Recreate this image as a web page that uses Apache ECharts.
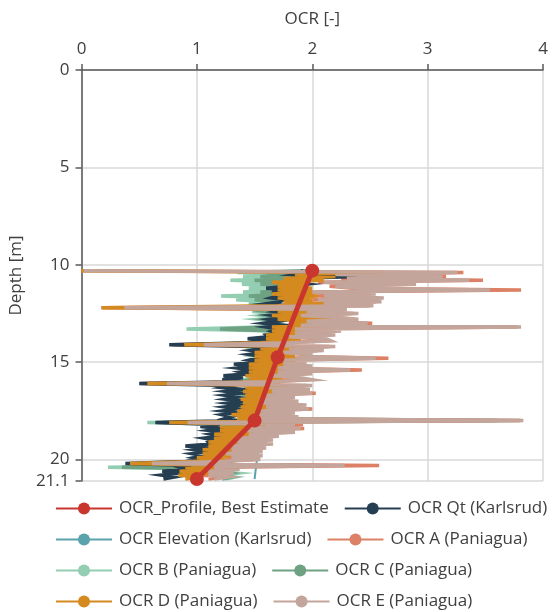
<!DOCTYPE html>
<html>
<head>
<meta charset="utf-8">
<script src="https://cdn.jsdelivr.net/npm/echarts@6/dist/echarts.min.js"></script>
<style>
  html, body { margin: 0; padding: 0; background: #ffffff; }
  #chart { width: 552px; height: 612px; }
</style>
</head>
<body>
<div id="chart"></div>
<script>
// Depth samples [m] shared by the CPT-derived OCR traces
const depths = [
  10.3, 10.4, 10.5, 10.6, 10.7, 10.8, 10.9, 11.0, 11.1, 11.2,
  11.3, 11.4, 11.5, 11.6, 11.7, 11.8, 11.9, 12.0, 12.1, 12.2,
  12.3, 12.4, 12.5, 12.6, 12.7, 12.8, 12.9, 13.0, 13.1, 13.2,
  13.3, 13.4, 13.5, 13.6, 13.7, 13.8, 13.9, 14.0, 14.1, 14.2,
  14.3, 14.4, 14.5, 14.6, 14.7, 14.8, 14.9, 15.0, 15.1, 15.2,
  15.3, 15.4, 15.5, 15.6, 15.7, 15.8, 15.9, 16.0, 16.1, 16.2,
  16.3, 16.4, 16.5, 16.6, 16.7, 16.8, 16.9, 17.0, 17.1, 17.2,
  17.3, 17.4, 17.5, 17.6, 17.7, 17.8, 17.9, 18.0, 18.1, 18.2,
  18.3, 18.4, 18.5, 18.6, 18.7, 18.8, 18.9, 19.0, 19.1, 19.2,
  19.3, 19.4, 19.5, 19.6, 19.7, 19.8, 19.9, 20.0, 20.1, 20.2,
  20.3, 20.4, 20.5, 20.6, 20.7, 20.8, 20.9, 21.0
];

const ocrQt = [
  1.90, 1.94, 1.85, 2.40, 1.80, 2.00, 1.77, 1.95, 1.80, 1.60,
  1.85, 1.65, 1.90, 1.70, 1.64, 1.75, 1.72, 1.60, 1.80, 1.60,
  1.75, 1.68, 1.85, 1.65, 1.75, 1.62, 1.70, 1.58, 1.75, 1.60,
  1.70, 1.65, 1.72, 1.60, 1.62, 1.44, 1.60, 1.45, 0.76, 1.48,
  1.60, 1.47, 1.58, 1.45, 1.55, 1.52, 1.45, 1.55, 1.32, 1.50,
  1.35, 1.50, 1.38, 1.45, 1.23, 1.40, 1.22, 1.40, 0.50, 1.30,
  1.22, 1.40, 1.25, 1.38, 1.24, 1.35, 1.25, 1.40, 1.26, 1.38,
  1.24, 1.35, 1.22, 1.35, 1.22, 1.30, 1.24, 1.35, 0.64, 1.20,
  1.03, 1.20, 1.10, 1.25, 1.12, 1.20, 1.06, 1.15, 1.10, 1.12,
  0.90, 1.10, 0.98, 1.10, 0.96, 1.05, 0.97, 1.05, 0.90, 0.38,
  0.95, 0.85, 0.90, 0.70, 0.85, 0.69, 0.80, 0.71
];

const ocrA = [
  0.00, 3.31, 2.15, 3.16, 2.25, 3.48, 2.05, 2.85, 2.15, 2.35,
  3.81, 1.95, 2.50, 2.05, 2.58, 2.00, 2.55, 2.05, 2.50, 0.17,
  2.25, 1.90, 2.35, 1.85, 2.20, 2.35, 1.90, 2.52, 1.85, 3.78,
  1.80, 2.20, 1.80, 2.15, 1.75, 2.08, 2.12, 1.75, 0.79, 2.15,
  1.75, 2.05, 1.70, 1.95, 1.80, 2.66, 1.65, 1.90, 1.70, 1.95,
  1.65, 2.43, 1.65, 1.95, 1.60, 1.85, 1.95, 1.60, 0.51, 1.95,
  1.55, 1.93, 1.60, 2.03, 1.55, 1.80, 1.50, 1.83, 1.50, 1.90,
  1.55, 2.00, 1.50, 1.80, 1.45, 1.83, 1.50, 3.80, 0.80, 1.92,
  1.40, 1.93, 1.35, 1.80, 1.40, 1.66, 1.30, 1.61, 1.30, 1.61,
  1.25, 1.55, 1.25, 1.52, 1.20, 1.52, 1.25, 1.50, 1.15, 0.55,
  2.58, 1.10, 1.32, 1.05, 1.27, 1.05, 1.22, 1.10
];

const ocrB = [
  1.90, 1.35, 1.85, 1.40, 1.80, 1.29, 1.75, 1.39, 1.80, 1.45,
  1.70, 1.40, 1.75, 1.21, 1.70, 1.34, 1.65, 1.45, 1.70, 1.50,
  1.65, 1.48, 1.70, 1.56, 1.72, 1.53, 1.68, 1.60, 1.70, 1.55,
  0.91, 1.65, 1.63, 1.70, 1.62, 1.68, 1.60, 1.65, 1.55, 1.65,
  1.52, 1.62, 1.55, 1.65, 1.50, 1.60, 1.50, 1.62, 1.48, 1.58,
  1.50, 1.55, 1.45, 1.55, 1.45, 1.52, 1.42, 1.50, 1.40, 1.50,
  1.45, 1.52, 1.42, 1.50, 1.40, 1.48, 1.42, 1.50, 1.40, 1.48,
  1.38, 1.45, 1.40, 1.45, 1.38, 1.42, 1.40, 3.81, 0.57, 1.40,
  1.35, 1.42, 1.35, 1.40, 1.30, 1.42, 1.35, 1.40, 1.32, 1.45,
  1.38, 1.48, 1.35, 1.40, 1.30, 1.38, 1.30, 1.35, 1.25, 1.30,
  1.20, 0.23, 1.25, 1.17, 1.35, 1.20, 1.33, 1.25
];

const ocrC = [
  1.95, 1.60, 1.90, 1.55, 1.85, 1.50, 1.80, 1.55, 1.85, 1.60,
  1.80, 1.55, 1.80, 1.45, 1.75, 1.50, 1.72, 1.58, 1.75, 1.60,
  1.72, 1.60, 1.75, 1.62, 1.75, 1.60, 1.72, 1.63, 1.74, 1.60,
  1.20, 1.68, 1.66, 1.72, 1.64, 1.70, 1.62, 1.68, 1.58, 1.68,
  1.56, 1.65, 1.58, 1.66, 1.55, 1.63, 1.53, 1.64, 1.52, 1.60,
  1.53, 1.60, 1.50, 1.58, 1.48, 1.56, 1.47, 1.55, 1.44, 1.54,
  1.48, 1.56, 1.46, 1.54, 1.45, 1.52, 1.46, 1.53, 1.44, 1.52,
  1.43, 1.50, 1.44, 1.50, 1.42, 1.47, 1.44, 3.60, 0.70, 1.45,
  1.38, 1.46, 1.38, 1.44, 1.35, 1.46, 1.38, 1.44, 1.36, 1.47,
  1.40, 1.50, 1.38, 1.44, 1.34, 1.41, 1.33, 1.38, 1.28, 1.33,
  1.24, 0.35, 1.28, 1.20, 1.30, 1.22, 1.30, 1.22
];

const ocrD = [
  0.00, 2.62, 1.85, 2.20, 1.75, 2.10, 1.65, 1.95, 1.70, 2.00,
  1.70, 2.00, 1.65, 2.05, 1.70, 2.00, 1.75, 2.10, 1.70, 0.18,
  2.05, 1.70, 2.10, 1.65, 2.14, 1.70, 2.00, 1.80, 2.20, 1.65,
  2.00, 1.65, 1.95, 1.60, 1.90, 1.60, 1.90, 1.55, 0.89, 1.85,
  1.55, 1.90, 1.50, 1.85, 1.50, 1.95, 1.50, 1.85, 1.45, 1.80,
  1.45, 1.90, 1.45, 1.75, 1.42, 1.75, 1.45, 1.72, 0.57, 1.75,
  1.42, 1.70, 1.40, 1.77, 1.42, 1.70, 1.38, 1.65, 1.40, 1.72,
  1.38, 1.65, 1.35, 1.60, 1.30, 1.60, 1.35, 1.62, 0.76, 1.60,
  1.20, 1.58, 1.20, 1.55, 1.15, 1.45, 1.15, 1.40, 1.10, 1.37,
  1.10, 1.35, 1.05, 1.30, 1.05, 1.30, 1.00, 1.25, 0.95, 0.42,
  1.20, 0.90, 1.15, 0.85, 1.10, 0.84, 1.05, 0.90
];

const ocrE = [
  0.02, 3.26, 2.20, 3.13, 2.30, 3.36, 2.10, 2.90, 2.20, 2.40,
  3.54, 2.00, 2.55, 2.10, 2.62, 2.05, 2.60, 2.10, 2.53, 0.37,
  2.30, 1.95, 2.40, 1.90, 2.23, 2.40, 1.95, 2.48, 1.90, 3.81,
  1.85, 2.25, 1.85, 2.20, 1.80, 2.12, 2.16, 1.80, 1.06, 2.20,
  1.80, 2.10, 1.75, 2.00, 1.85, 2.55, 1.70, 1.95, 1.75, 2.00,
  1.70, 2.33, 1.70, 2.00, 1.65, 1.90, 2.00, 1.65, 0.74, 2.00,
  1.60, 1.98, 1.65, 2.00, 1.60, 1.85, 1.55, 1.88, 1.55, 1.95,
  1.60, 1.97, 1.55, 1.85, 1.50, 1.88, 1.55, 3.83, 0.92, 1.85,
  1.45, 1.90, 1.40, 1.85, 1.45, 1.71, 1.35, 1.66, 1.35, 1.66,
  1.30, 1.60, 1.30, 1.57, 1.25, 1.57, 1.30, 1.55, 1.20, 0.61,
  2.28, 1.15, 1.37, 1.10, 1.32, 1.10, 1.27, 1.15
];

// Elevation-based estimate is a smooth trend, sampled more coarsely
const elevationDepths = [10.3, 11.0, 12.0, 13.0, 14.0, 15.0, 16.0, 17.0, 18.0, 19.0, 19.5, 20.0, 20.5, 21.0];
const ocrElevation   = [1.95, 1.92, 1.87, 1.82, 1.76, 1.71, 1.67, 1.63, 1.59, 1.55, 1.53, 1.52, 1.51, 1.50];

// Best-estimate OCR profile
const profileDepths = [10.3, 14.75, 18.0, 21.0];
const profileOcr    = [2.0, 1.7, 1.5, 1.0];

const names = {
  profile: 'OCR_Profile, Best Estimate',
  qt: 'OCR Qt (Karlsrud)',
  elev: 'OCR Elevation (Karlsrud)',
  a: 'OCR A (Paniagua)',
  b: 'OCR B (Paniagua)',
  c: 'OCR C (Paniagua)',
  d: 'OCR D (Paniagua)',
  e: 'OCR E (Paniagua)'
};

const colors = {
  profile: '#c9362e',
  qt: '#263e52',
  elev: '#5aa2ac',
  a: '#dc8165',
  b: '#93cdb2',
  c: '#6fa283',
  d: '#d48a1f',
  e: '#c3a59b'
};

function pairs(xs, ys) {
  return xs.map((x, i) => [x, ys[i]]);
}

function trace(key, values, ys, width) {
  return {
    name: names[key],
    type: 'line',
    data: pairs(values, ys),
    symbol: 'none',
    showSymbol: false,
    lineStyle: { color: colors[key], width: width, join: 'miter' },
    itemStyle: { color: colors[key] },
    color: colors[key],
    animation: false,
    z: 2
  };
}

const font = 'Open Sans, Noto Sans, sans-serif';
const axisColor = '#595959';
const textColor = '#404040';
const gridColor = '#d9d9d9';

function legendRow(top, items) {
  return {
    left: 55,
    top: top,
    padding: 0,
    orient: 'horizontal',
    itemWidth: 56,
    itemHeight: 15,
    itemGap: 15,
    data: items,
    lineStyle: { width: 2 },
    textStyle: { fontFamily: font, fontSize: 17, color: textColor, padding: [0, 0, 0, 2] }
  };
}

const chart = echarts.init(document.getElementById('chart'), null, { renderer: 'canvas' });

chart.setOption({
  animation: false,
  backgroundColor: '#ffffff',
  grid: { left: 72, right: 9, top: 70, bottom: 131, containLabel: false },
  legend: [
    legendRow(500, [names.profile, names.qt]),
    legendRow(531, [names.elev, names.a]),
    legendRow(562, [names.b, names.c]),
    legendRow(593, [names.d, names.e])
  ],
  xAxis: {
    type: 'value',
    position: 'top',
    min: 0,
    max: 4,
    interval: 1,
    name: 'OCR [-]',
    nameLocation: 'middle',
    nameGap: 42,
    nameTextStyle: { fontFamily: font, fontSize: 17, color: textColor },
    axisLine: { show: true, lineStyle: { color: axisColor, width: 1.5 } },
    axisTick: { show: true, length: 6, lineStyle: { color: axisColor, width: 1.5 } },
    axisLabel: { fontFamily: font, fontSize: 17, color: textColor, margin: 12 },
    splitLine: { show: true, lineStyle: { color: gridColor, width: 1.5 } }
  },
  yAxis: {
    type: 'value',
    inverse: true,
    min: 0,
    max: 21.1,
    interval: 5,
    name: 'Depth [m]',
    nameLocation: 'middle',
    nameRotate: 90,
    nameGap: 50,
    nameTextStyle: { fontFamily: font, fontSize: 17, color: textColor },
    axisLine: { show: true, lineStyle: { color: axisColor, width: 1.5 } },
    axisTick: { show: true, length: 6, lineStyle: { color: axisColor, width: 1.5 } },
    axisLabel: { fontFamily: font, fontSize: 17, color: textColor, margin: 12, showMaxLabel: true },
    splitLine: { show: true, lineStyle: { color: gridColor, width: 1.5 } }
  },
  series: [
    trace('b', ocrB, depths, 3.5),
    trace('c', ocrC, depths, 3.5),
    trace('elev', ocrElevation, elevationDepths, 2),
    trace('a', ocrA, depths, 3.5),
    trace('qt', ocrQt, depths, 3.5),
    trace('d', ocrD, depths, 3.5),
    trace('e', ocrE, depths, 3.5),
    {
      name: names.profile,
      type: 'line',
      data: pairs(profileOcr, profileDepths),
      symbol: 'circle',
      symbolSize: 14,
      lineStyle: { color: colors.profile, width: 5 },
      itemStyle: { color: colors.profile },
      color: colors.profile,
      animation: false,
      clip: false,
      z: 5
    }
  ]
});
</script>
</body>
</html>
